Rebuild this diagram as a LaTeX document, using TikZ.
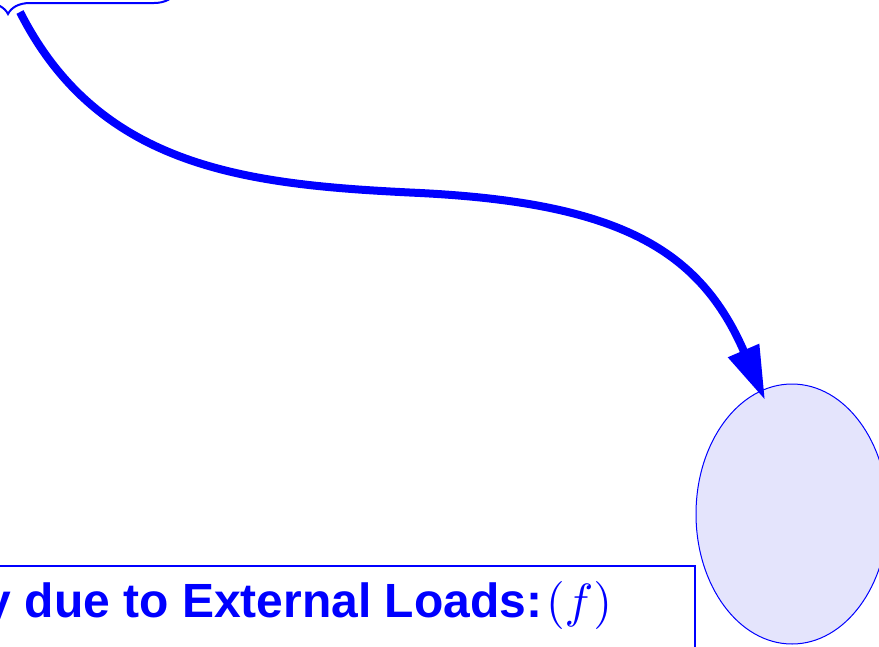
\documentclass[tikz,border=0pt]{standalone}
\usepackage{fix-cm}
\usepackage{fontspec}
\setmainfont{Liberation Sans}
\usetikzlibrary{arrows.meta,shapes.geometric,decorations.pathreplacing}
\definecolor{ellfill}{RGB}{228,228,252}
\tikzset{
  bracestyle/.style={draw=blue,line width=2pt,decorate,decoration={brace,amplitude=22pt}},
  bigarrow/.style={draw=blue,line width=8pt,-{Triangle[length=54pt,width=32pt]}},
  ellbox/.style={ellipse,draw=blue,line width=1pt,fill=ellfill,minimum width=192pt,minimum height=260pt,inner sep=0pt},
  framebox/.style={draw=blue,line width=2pt},
  labeltext/.style={text=blue,font=\bfseries,inner sep=0pt,scale=4.8}
}
\begin{document}
\begin{tikzpicture}[x=1pt,y=-1pt]
\useasboundingbox (0,0) rectangle (879,646);
\clip (0,0) rectangle (879,646);
% brace
\coordinate (braceR) at (176,-8);
\coordinate (braceL) at (-160,-8);
\draw[bracestyle] (braceR) -- (braceL);
\coordinate (start) at (20,12);
% ellipse
\node[ellbox] (ell) at (792,514) {};
% frame and text
\draw[framebox] (-300,566) rectangle (695,720);
\node[labeltext,anchor=base east] (lbl) at (613,617) {Energy due to External Loads:\hspace{0.8pt}$(f)$};
% arrow
\coordinate (tip) at (765,400);
\draw[bigarrow] (start) .. controls (100,170) and (250,185) .. (420,193)
  .. controls (620,203) and (700,250) .. (tip);
\end{tikzpicture}
\end{document}
